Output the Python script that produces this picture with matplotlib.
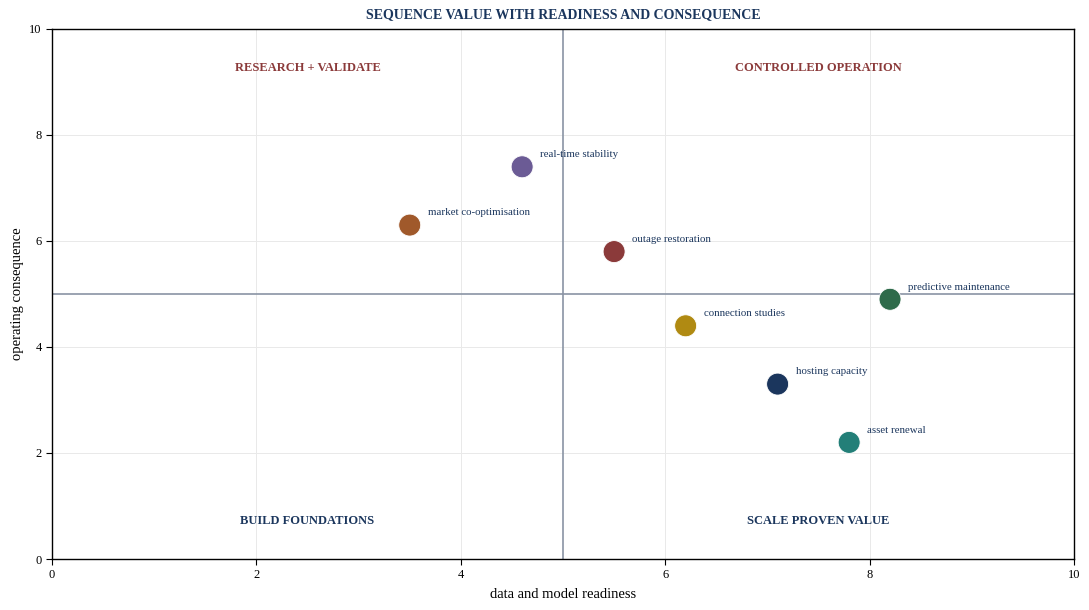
import matplotlib
matplotlib.use('Agg')
import matplotlib.pyplot as plt

plt.rcParams['font.family'] = ['Liberation Serif', 'DejaVu Serif']

# --- data ---
names = ['real-time stability', 'market co-optimisation', 'outage restoration',
         'predictive maintenance', 'connection studies', 'hosting capacity', 'asset renewal']
readiness = [4.6, 3.5, 5.5, 8.2, 6.2, 7.1, 7.8]
consequence = [7.4, 6.3, 5.8, 4.9, 4.4, 3.3, 2.2]
colors = ['#6B5B95', '#A0592B', '#8B3A3A', '#2E6B4A', '#B08A12', '#1B365D', '#237F78']

quad_labels = ['RESEARCH + VALIDATE', 'CONTROLLED OPERATION', 'BUILD FOUNDATIONS', 'SCALE PROVEN VALUE']
quad_x = [2.5, 7.5, 2.5, 7.5]
quad_y = [9.27, 9.27, 0.72, 0.72]
quad_colors = ['#8B3A3A', '#8B3A3A', '#1B365D', '#1B365D']

navy = '#1B365D'

fig = plt.figure(figsize=(10.89, 6.10), dpi=100)
ax = fig.add_axes([0.0478, 0.0836, 0.9384, 0.8689])

ax.set_xlim(0, 10)
ax.set_ylim(0, 10)
ax.set_xticks([0, 2, 4, 6, 8, 10])
ax.set_yticks([0, 2, 4, 6, 8, 10])
ax.grid(True, color='#E9E9E9', linewidth=0.7)
ax.set_axisbelow(True)

ax.axvline(5, color='#8A94A4', linewidth=1.2, zorder=1)
ax.axhline(5, color='#8A94A4', linewidth=1.2, zorder=1)

ax.scatter(readiness, consequence, s=250, c=colors, edgecolors='white',
           linewidths=0.6, zorder=3)
for n, x, y in zip(names, readiness, consequence):
    ax.annotate(n, (x, y), xytext=(13, 5.5), textcoords='offset points',
                fontsize=7.8, color=navy, va='bottom', ha='left')

for t, x, y, c in zip(quad_labels, quad_x, quad_y, quad_colors):
    ax.text(x, y, t, ha='center', va='center', fontsize=9, fontweight='bold', color=c)

ax.set_title('SEQUENCE VALUE WITH READINESS AND CONSEQUENCE', fontsize=10,
             fontweight='bold', color=navy, pad=7.5)
ax.set_xlabel('data and model readiness', fontsize=10.5, labelpad=5)
ax.set_ylabel('operating consequence', fontsize=10.5, labelpad=3.5)
ax.tick_params(labelsize=9, length=4)
for sp in ax.spines.values():
    sp.set_linewidth(1.0)

fig.savefig('out.png', dpi=100)
